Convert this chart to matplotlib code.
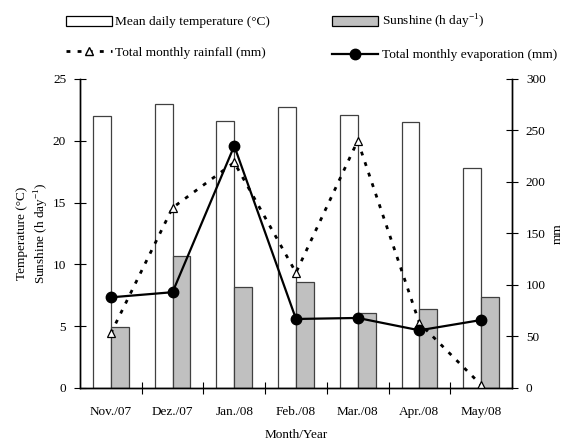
import numpy as np
import matplotlib
matplotlib.use("Agg")
import matplotlib.pyplot as plt
from matplotlib.patches import Patch
from matplotlib.lines import Line2D

plt.rcParams['font.family'] = ['Liberation Serif', 'DejaVu Serif']
plt.rcParams['mathtext.fontset'] = 'custom'
plt.rcParams['mathtext.rm'] = 'Liberation Serif'

months = ['Nov./07', 'Dez./07', 'Jan./08', 'Feb./08', 'Mar./08', 'Apr./08', 'May/08']
temperature = [22.0, 23.0, 21.6, 22.7, 22.1, 21.5, 17.8]
sunshine = [4.9, 10.7, 8.2, 8.55, 6.1, 6.4, 7.4]
rainfall = [53, 175, 219, 112, 240, 63, 3]
evaporation = [88, 93, 235, 67, 68, 56, 66]

fig = plt.figure(figsize=(5.64, 4.41), dpi=100)
ax = fig.add_axes([0.1418, 0.1202, 0.7660, 0.7007])
ax2 = ax.twinx()

x = np.arange(len(months)) + 0.5
w = 0.29
ax.bar(x - w, temperature, w, align='edge', color='white', edgecolor='#404040', lw=0.9, zorder=2)
ax.bar(x, sunshine, w, align='edge', color='#c0c0c0', edgecolor='#404040', lw=0.9, zorder=2)

rain_style = (0, (1.4, 2.6))
ax2.plot(x, rainfall, color='black', lw=2, linestyle=rain_style,
         marker='^', ms=5.5, mfc='white', mec='black', mew=0.9)
ax2.plot(x, evaporation, color='black', lw=1.6, marker='o', ms=7.5)

ax.set_xlim(0, 7)
ax.set_ylim(0, 25)
ax2.set_ylim(0, 300)
ax.set_yticks(np.arange(0, 26, 5))
ax2.set_yticks(np.arange(0, 301, 50))
ax.set_xticks(np.arange(1, 7))
ax.set_xticklabels([])
ax.set_xticks(x, minor=True)
ax.set_xticklabels(months, minor=True)
ax.tick_params(axis='x', which='minor', length=0, pad=13, labelsize=9.5)
ax.tick_params(axis='x', which='major', direction='inout', length=8)
ax.tick_params(axis='y', direction='inout', length=8, labelsize=9.5, pad=6)
ax2.tick_params(axis='y', direction='inout', length=8, labelsize=9.5, pad=6)

for a in (ax, ax2):
    a.spines['top'].set_visible(False)
    for s in a.spines.values():
        s.set_linewidth(1.0)

ax.set_ylabel('Temperature (°C)\nSunshine (h day$^{-1}$)', fontsize=9.5,
              labelpad=1, linespacing=1.4)
ax2.set_ylabel('mm', fontsize=9.5, labelpad=4)
ax.set_xlabel('Month/Year', fontsize=9.5, labelpad=8)

handles = [
    Patch(facecolor='white', edgecolor='black', lw=0.9),
    Line2D([], [], color='black', lw=2, linestyle=rain_style, marker='^', ms=5.5, mfc='white', mec='black'),
    Patch(facecolor='#c0c0c0', edgecolor='black', lw=0.9),
    Line2D([], [], color='black', lw=1.6, marker='o', ms=7.5),
]
labels = ['Mean daily temperature (°C)', 'Total monthly rainfall (mm)',
          'Sunshine (h day$^{-1}$)', 'Total monthly evaporation (mm)']
fig.legend(handles, labels, ncol=2, loc='upper left', bbox_to_anchor=(0.095, 0.999),
           frameon=False, fontsize=9.6, handlelength=3.45, handleheight=0.8,
           labelspacing=1.35, columnspacing=4.7, handletextpad=0.25)

fig.savefig('out.png', dpi=100)
